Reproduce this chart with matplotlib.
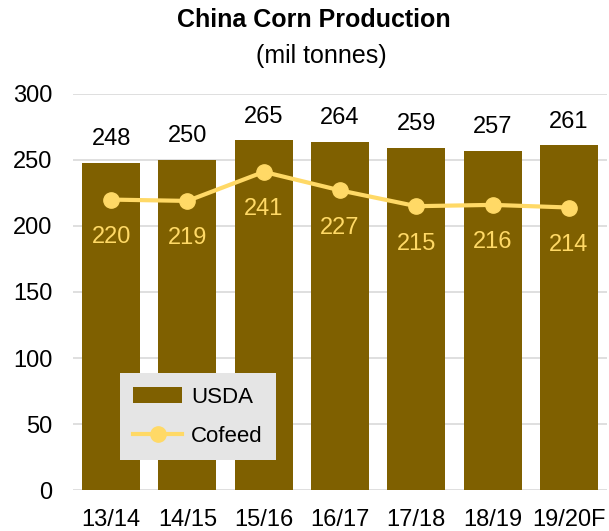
import matplotlib.pyplot as plt
import numpy as np

plt.rcParams['font.family'] = ['Liberation Sans', 'DejaVu Sans']

seasons = ['13/14', '14/15', '15/16', '16/17', '17/18', '18/19', '19/20F']
usda = [248, 250, 265, 264, 259, 257, 261]
cofeed = [220, 219, 241, 227, 215, 216, 214]

bar_color = '#7F6000'
line_color = '#FFD966'

fig = plt.figure(figsize=(6.09, 5.31), dpi=100)
ax = fig.add_axes([0.1199, 0.0772, 0.877, 0.7458])

x = np.arange(len(seasons))
bars = ax.bar(x, usda, width=0.76, color=bar_color, label='USDA', zorder=2)
line, = ax.plot(x, cofeed, color=line_color, lw=3, marker='o', ms=11, label='Cofeed', zorder=3)

for i, v in enumerate(usda):
    ax.annotate(str(v), (i, v), xytext=(0, 17), textcoords='offset points',
                ha='center', va='center', fontsize=17, color='black')
for i, v in enumerate(cofeed):
    ax.annotate(str(v), (i, v), xytext=(0, -27), textcoords='offset points',
                ha='center', va='center', fontsize=17, color=line_color)

ax.set_xlim(-0.5, len(seasons) - 0.5)
ax.set_ylim(0, 300)
ax.set_yticks(range(0, 301, 50))
ax.set_xticks(x)
ax.set_xticklabels(seasons)
ax.tick_params(axis='both', length=0, labelsize=17, colors='black')
ax.tick_params(axis='y', pad=15)
ax.tick_params(axis='x', pad=14)
ax.grid(axis='y', color='#D9D9D9', lw=1.2, zorder=0)
ax.set_axisbelow(True)
for s in ax.spines.values():
    s.set_visible(False)

fig.text(0.515, 0.962, 'China Corn Production', ha='center', va='center',
         fontsize=18, fontweight='bold')
fig.text(0.528, 0.895, '(mil tonnes)', ha='center', va='center', fontsize=18)

leg = ax.legend([bars, line], ['USDA', 'Cofeed'], loc='lower left',
                bbox_to_anchor=(0.088, 0.076), fontsize=16,
                frameon=True, fancybox=False, handlelength=2.2, borderpad=0.6,
                labelspacing=0.8, handletextpad=0.4, borderaxespad=0)
leg.get_frame().set_facecolor('#E5E5E5')
leg.get_frame().set_edgecolor('none')
leg.get_frame().set_alpha(1)

fig.savefig('out.png', dpi=100)
